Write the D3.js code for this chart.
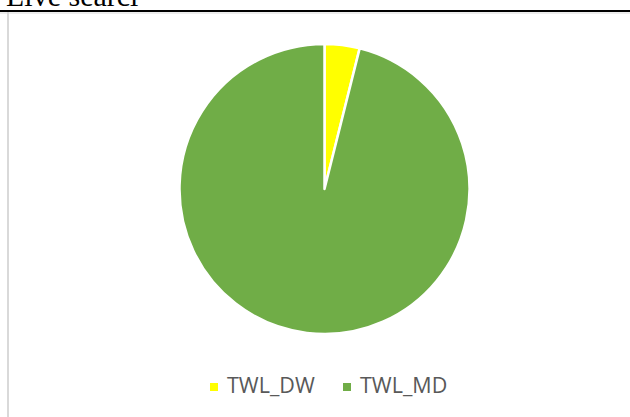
<!DOCTYPE html>
<html>
<head>
<meta charset="utf-8">
<script src="https://cdnjs.cloudflare.com/ajax/libs/d3/7.8.5/d3.min.js"></script>
<style>
    body { margin: 0; background: #fff; }
    svg { display: block; }
</style>
</head>
<body>
<svg id="chart" width="630" height="417"></svg>
<script>
// chart data
var categories = ["TWL_DW", "TWL_MD"];
var values = [3.9, 96.1];
var colors = ["#FFFF00", "#70AD47"];

var svg = d3.select("#chart");

// page header bits above the chart (text is cut off at the top, like the reference)
svg.append("text")
    .attr("x", 6)
    .attr("y", 6)
    .attr("font-family", "Liberation Serif, Times New Roman, serif")
    .attr("font-size", 30)
    .attr("fill", "#000")
    .text("Live searcl");

svg.append("rect").attr("x", 0).attr("y", 10).attr("width", 630).attr("height", 2).attr("fill", "#000");
svg.append("rect").attr("x", 0).attr("y", 12).attr("width", 630).attr("height", 2).attr("fill", "#ececec");
svg.append("rect").attr("x", 7).attr("y", 12).attr("width", 2).attr("height", 405).attr("fill", "#d9d9d9");

// pie
var cx = 324.5, cy = 189, radius = 145;

var pie = d3.pie().sort(null).value(function(d) { return d; });
var arc = d3.arc().innerRadius(0).outerRadius(radius);

var g = svg.append("g").attr("transform", "translate(" + cx + "," + cy + ")");

g.selectAll("path")
    .data(pie(values))
    .enter().append("path")
    .attr("d", arc)
    .attr("fill", function(d, i) { return colors[i]; })
    .attr("stroke", "#fff")
    .attr("stroke-width", 2.5)
    .attr("stroke-linejoin", "round");

// legend
var legendX = [210, 343];
var legend = svg.append("g");

legend.selectAll("rect")
    .data(categories)
    .enter().append("rect")
    .attr("x", function(d, i) { return legendX[i]; })
    .attr("y", 383)
    .attr("width", 8)
    .attr("height", 8)
    .attr("fill", function(d, i) { return colors[i]; });

legend.selectAll("text")
    .data(categories)
    .enter().append("text")
    .attr("x", function(d, i) { return legendX[i] + 17; })
    .attr("y", 393)
    .attr("font-family", "Open Sans, sans-serif")
    .attr("font-size", 21.5)
    .attr("fill", "#595959")
    .text(function(d) { return d; });
</script>
</body>
</html>
